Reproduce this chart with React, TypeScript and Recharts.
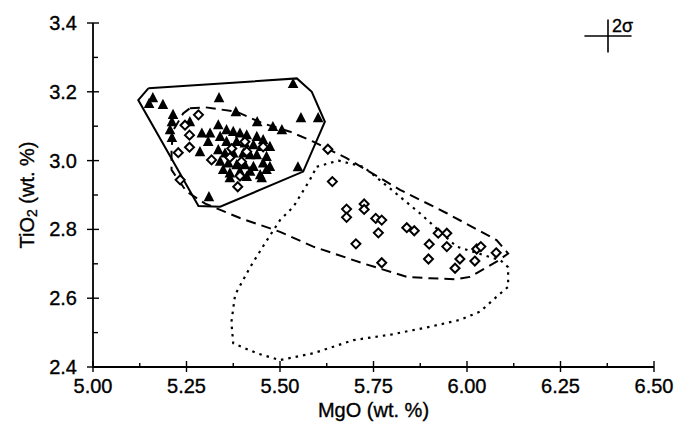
import React from "react";
import {
  ScatterChart,
  Scatter,
  XAxis,
  YAxis,
  ReferenceLine,
  Label,
} from "recharts";

// MgO, TiO2 (wt. %) pairs
const triangles: [number, number][] = [
  [5.16, 3.182], [5.187, 3.162], [5.15, 3.165], [5.337, 3.182], [5.535, 3.223],
  [5.214, 3.133], [5.211, 3.112], [5.206, 3.089], [5.211, 3.066], [5.259, 3.112],
  [5.382, 3.141], [5.439, 3.112], [5.481, 3.098], [5.505, 3.089], [5.556, 3.124],
  [5.602, 3.124], [5.548, 2.981], [5.31, 2.894], [5.286, 3.025], [5.291, 3.079],
  [5.313, 3.079], [5.308, 3.055],
  [5.335, 3.103], [5.357, 3.089], [5.375, 3.084], [5.393, 3.079], [5.411, 3.074],
  [5.438, 3.069], [5.455, 3.06], [5.473, 3.04], [5.34, 3.069], [5.357, 3.055],
  [5.384, 3.055], [5.406, 3.05], [5.429, 3.045], [5.451, 3.04], [5.335, 3.031],
  [5.353, 3.021], [5.375, 3.021], [5.402, 3.021], [5.42, 3.016], [5.438, 3.016],
  [5.464, 3.011], [5.34, 2.997], [5.362, 2.992], [5.384, 2.987], [5.406, 2.987],
  [5.429, 2.982], [5.455, 2.992], [5.473, 2.982], [5.348, 2.973], [5.366, 2.963],
  [5.393, 2.968], [5.42, 2.968], [5.447, 2.958], [5.464, 2.973], [5.366, 2.949],
  [5.411, 2.953], [5.451, 2.949],
];

const diamonds: [number, number][] = [
  [5.282, 3.133], [5.246, 3.103], [5.258, 3.074], [5.258, 3.039], [5.228, 3.023],
  [5.317, 3.002], [5.393, 2.955], [5.387, 2.924], [5.233, 2.944], [5.371, 3.035],
  [5.366, 3.009], [5.406, 3.055], [5.411, 3.026], [5.455, 3.04], [5.397, 2.997],
  [5.628, 3.033], [5.64, 2.939], [5.678, 2.859], [5.678, 2.835], [5.725, 2.874],
  [5.725, 2.858], [5.756, 2.832], [5.772, 2.827], [5.763, 2.79], [5.703, 2.758],
  [5.772, 2.703], [5.839, 2.805], [5.859, 2.796], [5.923, 2.789], [5.946, 2.789],
  [5.899, 2.757], [5.946, 2.75], [5.897, 2.714], [5.981, 2.714], [5.968, 2.687],
  [6.026, 2.743], [6.037, 2.75], [6.021, 2.708], [6.078, 2.732],
];

// field outlines (closed)
const solidField: [number, number][] = [
  [5.148, 3.21], [5.545, 3.239], [5.585, 3.2], [5.62, 3.113], [5.562, 2.968],
  [5.34, 2.866], [5.282, 2.868], [5.121, 3.176], [5.148, 3.21],
];

const dashedField: [number, number][] = [
  [5.259, 3.152], [5.3, 3.155], [5.384, 3.142], [5.455, 3.108], [5.527, 3.084],
  [5.589, 3.055], [5.678, 3.007], [5.821, 2.915], [5.946, 2.847], [6.079, 2.769],
  [6.11, 2.73], [6.079, 2.706], [6.008, 2.662], [5.972, 2.655], [5.901, 2.658],
  [5.839, 2.662], [5.723, 2.701], [5.589, 2.75], [5.5, 2.793], [5.393, 2.833],
  [5.3, 2.875], [5.25, 2.91], [5.21, 2.973], [5.21, 3.036], [5.215, 3.089],
  [5.241, 3.137], [5.259, 3.152],
];

const dottedField: [number, number][] = [
  [5.598, 2.982], [5.656, 3.0], [5.723, 2.982], [5.794, 2.919], [5.874, 2.847],
  [5.972, 2.75], [6.09, 2.71], [6.11, 2.69], [6.11, 2.633], [6.079, 2.604],
  [6.035, 2.561], [5.981, 2.537], [5.901, 2.517], [5.8, 2.495], [5.696, 2.478],
  [5.589, 2.44], [5.5, 2.42], [5.438, 2.44], [5.375, 2.469], [5.37, 2.53],
  [5.38, 2.61], [5.42, 2.69], [5.46, 2.76], [5.5, 2.827], [5.536, 2.866],
  [5.58, 2.944], [5.598, 2.982],
];

const xTicks = [5, 5.125, 5.25, 5.375, 5.5, 5.625, 5.75, 5.875, 6, 6.125, 6.25, 6.375, 6.5];
const yTicks = [2.4, 2.5, 2.6, 2.7, 2.8, 2.9, 3.0, 3.1, 3.2, 3.3, 3.4];

// 2 sigma cross (centre and half widths)
const sigma = { x: 6.377, y: 3.362, dx: 0.063, dy: 0.048 };

const toPts = (arr: [number, number][]) => arr.map(([x, y]) => ({ x, y }));

const FONT = "'Liberation Sans', Arial, Helvetica, sans-serif";
const txt = { fontSize: 20, fontFamily: FONT, fill: "#000", stroke: "#000", strokeWidth: 0.35 };

function XTick({ x, y, payload }: any) {
  const v = payload.value;
  const major = Math.round(v * 1000) % 250 === 0;
  return (
    <g>
      <line x1={x} x2={x} y1={y - (major ? 6 : 4)} y2={y + (major ? 5 : 0)} stroke="#000" strokeWidth={1.4} />
      {major && (
        <text x={x} y={y + 26} textAnchor="middle" {...txt}>
          {v.toFixed(2)}
        </text>
      )}
    </g>
  );
}

function YTick({ x, y, payload }: any) {
  const v = payload.value;
  const major = Math.round(v * 10) % 2 === 0;
  return (
    <g>
      <line x1={x - (major ? 6 : 0)} x2={x + (major ? 6 : 5)} y1={y} y2={y} stroke="#000" strokeWidth={1.4} />
      {major && (
        <text x={x - 16} y={y + 7} textAnchor="end" {...txt}>
          {v.toFixed(1)}
        </text>
      )}
    </g>
  );
}

function Triangle({ cx, cy }: any) {
  return (
    <polygon
      points={`${cx},${cy - 6} ${cx - 5.3},${cy + 4.2} ${cx + 5.3},${cy + 4.2}`}
      fill="#000"
    />
  );
}

function Diamond({ cx, cy }: any) {
  return (
    <polygon
      points={`${cx},${cy - 4.5} ${cx + 4.5},${cy} ${cx},${cy + 4.5} ${cx - 4.5},${cy}`}
      fill="#fff"
      stroke="#000"
      strokeWidth={2}
    />
  );
}

const NoShape = () => <g />;

export default function App() {
  return (
    <div style={{ position: "absolute", left: 0, top: 0, width: 679, height: 426, background: "#fff" }}>
      <ScatterChart width={679} height={426} margin={{ top: 23, right: 25, bottom: 0, left: 0 }}>
        <XAxis
          type="number"
          dataKey="x"
          domain={[5, 6.5]}
          ticks={xTicks}
          interval={0}
          height={59}
          tickSize={0}
          tickMargin={0}
          tickLine={false}
          axisLine={{ stroke: "#000", strokeWidth: 1.8 }}
          tick={<XTick />}
        >
          <Label
            content={({ viewBox }: any) => (
              <text x={viewBox.x + viewBox.width / 2} y={viewBox.y + 50} textAnchor="middle" {...txt}>
                MgO (wt. %)
              </text>
            )}
          />
        </XAxis>
        <YAxis
          type="number"
          dataKey="y"
          domain={[2.4, 3.4]}
          ticks={yTicks}
          interval={0}
          width={93}
          tickSize={0}
          tickMargin={0}
          tickLine={false}
          axisLine={{ stroke: "#000", strokeWidth: 1.8 }}
          tick={<YTick />}
        >
          <Label
            content={({ viewBox }: any) => {
              const cx = 27;
              const cy = viewBox.y + viewBox.height / 2;
              return (
                <text
                  x={cx}
                  y={cy}
                  transform={`rotate(-90 ${cx} ${cy})`}
                  textAnchor="middle"
                  dominantBaseline="central"
                  {...txt}
                >
                  TiO<tspan fontSize={14} dy={5}>2</tspan>
                  <tspan dy={-5}> (wt. %)</tspan>
                </text>
              );
            }}
          />
        </YAxis>

        <Scatter
          data={toPts(dottedField)}
          line={{ stroke: "#000", strokeWidth: 2.2, strokeDasharray: "2.5 5" }}
          lineType="joint"
          shape={NoShape}
          isAnimationActive={false}
        />
        <Scatter
          data={toPts(dashedField)}
          line={{ stroke: "#000", strokeWidth: 2, strokeDasharray: "10 6" }}
          lineType="joint"
          shape={NoShape}
          isAnimationActive={false}
        />
        <Scatter
          data={toPts(solidField)}
          line={{ stroke: "#000", strokeWidth: 2 }}
          lineType="joint"
          shape={NoShape}
          isAnimationActive={false}
        />
        <Scatter data={toPts(triangles)} shape={<Triangle />} isAnimationActive={false} />
        <Scatter data={toPts(diamonds)} shape={<Diamond />} isAnimationActive={false} />

        <ReferenceLine
          segment={[
            { x: sigma.x - sigma.dx, y: sigma.y },
            { x: sigma.x + sigma.dx, y: sigma.y },
          ]}
          stroke="#000"
          strokeWidth={1.6}
          ifOverflow="visible"
        />
        <ReferenceLine
          segment={[
            { x: sigma.x, y: sigma.y - sigma.dy },
            { x: sigma.x, y: sigma.y + sigma.dy },
          ]}
          stroke="#000"
          strokeWidth={1.6}
          ifOverflow="visible"
          label={({ viewBox }: any) => (
            <text x={viewBox.x + 4} y={viewBox.y + 12} {...txt} fontSize={18}>
              2σ
            </text>
          )}
        />
      </ScatterChart>
    </div>
  );
}
